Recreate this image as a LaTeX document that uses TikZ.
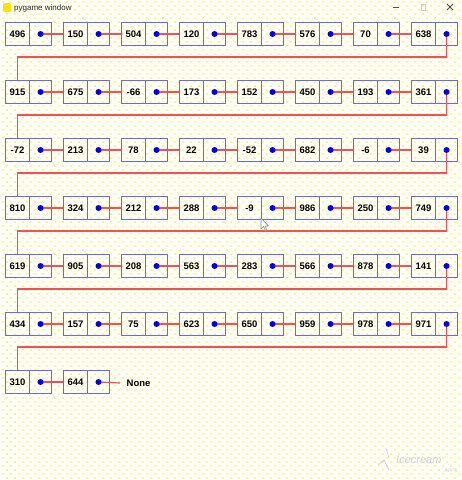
\documentclass[tikz,border=0pt]{standalone}
\usepackage{fontspec}
\setmainfont{Liberation Sans}
\definecolor{boxblue}{RGB}{105,105,230}
\definecolor{linkred}{RGB}{245,80,80}
\definecolor{dotblue}{RGB}{0,0,235}
\definecolor{ydot}{RGB}{255,248,125}
\definecolor{wmgray}{RGB}{205,205,220}
\tikzset{
  cellL/.style={draw=boxblue, line width=1pt, minimum width=24pt, minimum height=23pt, inner sep=0pt, font=\fontsize{9.5}{10}\selectfont\bfseries},
  cellR/.style={draw=boxblue, line width=1pt, minimum width=22pt, minimum height=23pt, inner sep=0pt},
  link/.style={draw=linkred, line width=1.2pt},
  ptr/.style={circle, fill=dotblue, minimum size=6pt, inner sep=0pt},
}
\begin{document}
\begin{tikzpicture}[x=1pt,y=-1pt]
\useasboundingbox (0,0) rectangle (462,480);
\fill[white] (0,0) rectangle (462,480);
% dotted background
\foreach \j in {0,...,119}{
  \foreach \i in {0,...,57}{
    \fill[ydot] ({\i*8+mod(\j,2)*4+2},{\j*4+1}) rectangle ++(1.5,1.5);
  }
}
% title bar
\node[fill=yellow!85!orange, rounded corners=1.5pt, minimum width=8pt, minimum height=9pt, inner sep=0pt] (icon) at (7,7.5) {};
\node[anchor=west, inner sep=0pt, font=\fontsize{8}{9}\selectfont, text=black!85] (title) at (14,8) {pygame window};
\draw[black!70, line width=0.8pt] (393,7) -- (399,7);
\draw[black!20, line width=0.8pt] (421,4) rectangle (425,10);
\draw[black!70, line width=0.8pt] (447,4) -- (453,10) (447,10) -- (453,4);
% cells
\foreach \r/\vals in {0/{496,150,504,120,783,576,70,638},
                      1/{915,675,-66,173,152,450,193,361},
                      2/{-72,213,78,22,-52,682,-6,39},
                      3/{810,324,212,288,-9,986,250,749},
                      4/{619,905,208,563,283,566,878,141},
                      5/{434,157,75,623,650,959,978,971},
                      6/{310,644}}{
  \foreach \v [count=\c from 0] in \vals {
    \node[cellL] (L\r-\c) at ({17.5+58*\c},{34+58*\r}) {\v};
    \node[cellR] (R\r-\c) at ({40.5+58*\c},{34+58*\r}) {};
  }
}
\node[anchor=west, inner xsep=6.5pt, inner ysep=0pt, font=\fontsize{9.5}{10}\selectfont\bfseries] (none) at (120,383) {None};
% links
\foreach \r in {0,...,5}{
  \foreach \c [evaluate=\c as \n using int(\c+1)] in {0,...,6}{
    \draw[link] (R\r-\c.center) -- (L\r-\n.west);
  }
  \pgfmathtruncatemacro\nr{\r+1}
  \draw[link] (R\r-7.center) |- ([yshift=23pt]L\nr-0.north) -- (L\nr-0.north);
}
\draw[link] (R6-0.center) -- (L6-1.west);
\draw[link] (R6-1.center) -- (none.west);
% pointer dots
\foreach \r in {0,...,5}{
  \foreach \c in {0,...,7}{
    \node[ptr] (D\r-\c) at (R\r-\c.center) {};
  }
}
\node[ptr] (D6-0) at (R6-0.center) {};
\node[ptr] (D6-1) at (R6-1.center) {};
% mouse cursor
\draw[black!45, fill=white, line width=0.6pt, line join=round] (261,218) -- (261,229) -- (263.5,226.5) -- (265.5,231) -- (267,230.3) -- (265,226) -- (268.5,226) -- cycle;
% watermark
\draw[wmgray, line width=0.7pt] (378,465) -- (384,460) -- (389,470) (386,448) -- (389,458);
\node[anchor=west, inner sep=0pt, text=wmgray, font=\fontsize{11}{12}\selectfont\itshape] (wm) at (396,460) {Icecream};
\node[anchor=east, inner sep=0pt, text=wmgray, font=\fontsize{5}{6}\selectfont] (apps) at (458,471) {APPS};
\end{tikzpicture}
\end{document}
